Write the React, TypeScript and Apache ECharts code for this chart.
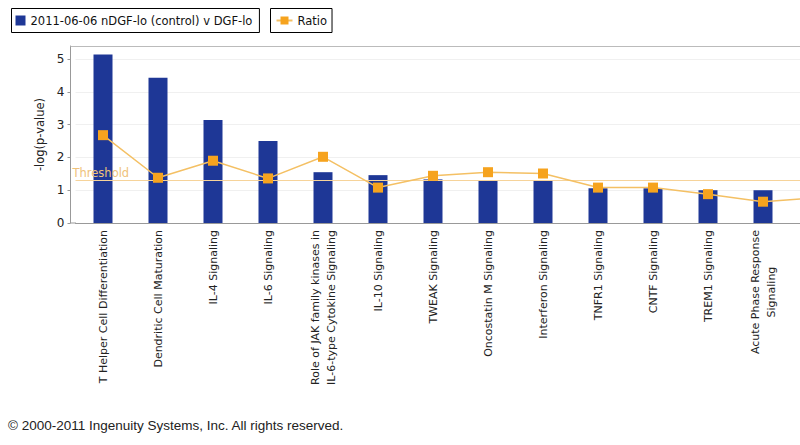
import React, { useEffect, useRef } from "react";
import * as echarts from "echarts";

const categories = [
  "T Helper Cell Differentiation",
  "Dendritic Cell Maturation",
  "IL-4 Signaling",
  "IL-6 Signaling",
  "Role of JAK family kinases in\nIL-6-type Cytokine Signaling",
  "IL-10 Signaling",
  "TWEAK Signaling",
  "Oncostatin M Signaling",
  "Interferon Signaling",
  "TNFR1 Signaling",
  "CNTF Signaling",
  "TREM1 Signaling",
  "Acute Phase Response\nSignaling",
  "",
];
const logPValues: (number | null)[] = [5.14, 4.43, 3.14, 2.5, 1.55, 1.46, 1.33, 1.31, 1.31, 1.06, 1.06, 1.0, 1.0, null];
const ratioValues = [2.68, 1.38, 1.9, 1.36, 2.02, 1.08, 1.44, 1.55, 1.51, 1.08, 1.08, 0.88, 0.65, 0.77];
const thresholdValue = 1.3;
const barSeriesName = "2011-06-06 nDGF-lo (control) v DGF-lo";
const lineSeriesName = "Ratio";
const footerText = "\u00a9 2000-2011 Ingenuity Systems, Inc. All rights reserved.";

const FONT = "DejaVu Sans";

export default function App() {
  const ref = useRef<HTMLDivElement>(null);
  useEffect(() => {
    if (!ref.current) return;
    const chart = echarts.init(ref.current, undefined, { renderer: "svg" });
    chart.setOption({
      animation: false,
      backgroundColor: "#ffffff",
      textStyle: { fontFamily: FONT },
      legend: [
        {
          data: [barSeriesName],
          left: 11.5,
          top: 8.5,
          orient: "horizontal",
          borderColor: "#000",
          borderWidth: 1,
          borderRadius: 0,
          padding: [6, 7, 6, 4],
          itemWidth: 10,
          itemHeight: 10,
          icon: "rect",
          textStyle: { fontFamily: FONT, fontSize: 11.5, color: "#111" },
        },
        {
          data: [lineSeriesName],
          left: 270.5,
          top: 8.5,
          borderColor: "#000",
          borderWidth: 1,
          borderRadius: 0,
          padding: [6, 5, 6, 5],
          itemWidth: 16,
          itemHeight: 10,
          textStyle: { fontFamily: FONT, fontSize: 11.5, color: "#111" },
        },
      ],
      grid: { left: 75.5, top: 46, width: 770, height: 177, containLabel: false },
      xAxis: {
        type: "category",
        data: categories,
        axisLine: { show: true, lineStyle: { color: "#999", width: 1 } },
        axisTick: { show: false },
        axisLabel: {
          interval: 0,
          rotate: 90,
          margin: 7,
          fontFamily: FONT,
          fontSize: 11,
          color: "#222",
          lineHeight: 16,
          formatter: (v: string) =>
            v.indexOf("\n") >= 0
              ? v.split("\n").map((s) => "{c|" + s + "}").join("\n")
              : v,
          rich: { c: { align: "center", fontFamily: FONT, fontSize: 11, color: "#222", lineHeight: 16 } },
        },
        splitLine: { show: false },
      },
      yAxis: {
        type: "value",
        min: 0,
        max: 5.4,
        interval: 1,
        offset: 5,
        name: "-log(p-value)",
        nameLocation: "middle",
        nameGap: 20,
        nameTextStyle: { fontFamily: FONT, fontSize: 11.5, color: "#222" },
        axisLine: { show: true, lineStyle: { color: "#999", width: 1 } },
        axisTick: { show: true, length: 3, lineStyle: { color: "#999" } },
        axisLabel: { showMaxLabel: false, margin: 6, fontFamily: FONT, fontSize: 12, color: "#222" },
        splitLine: { show: true, lineStyle: { color: "#f0f0f0", width: 1 } },
      },
      graphic: [
        {
          type: "line",
          shape: { x1: 70.5, y1: 46.5, x2: 850, y2: 46.5 },
          style: { stroke: "#bbb", lineWidth: 1 },
          z: 10,
        },
        {
          type: "line",
          shape: { x1: 70.5, y1: 223, x2: 76, y2: 223 },
          style: { stroke: "#999", lineWidth: 1 },
          z: 10,
        },
        {
          type: "text",
          left: 8,
          top: 418,
          style: {
            text: footerText,
            fontFamily: "Liberation Sans",
            fontSize: 13.5,
            fill: "#222",
          },
        },
      ],
      series: [
        {
          name: barSeriesName,
          type: "bar",
          data: logPValues,
          barWidth: 19,
          itemStyle: { color: "#1e3796" },
          markLine: {
            silent: true,
            symbol: "none",
            lineStyle: { color: "#f6d39a", type: "solid", width: 1 },
            label: {
              show: true,
              position: "insideStartTop",
              formatter: "Threshold",
              distance: 1,
              offset: [-4, 0],
              color: "#efc27a",
              fontFamily: FONT,
              fontSize: 11.5,
            },
            data: [{ yAxis: thresholdValue }],
          },
        },
        {
          name: lineSeriesName,
          type: "line",
          data: ratioValues,
          symbol: "rect",
          symbolSize: 10,
          lineStyle: { color: "#f4c064", width: 1.5 },
          itemStyle: { color: "#f6a31e" },
          z: 5,
        },
      ],
    });
    return () => chart.dispose();
  }, []);
  return (
    <div
      style={{ position: "absolute", left: 0, top: 0, width: 800, height: 445, overflow: "hidden", background: "#fff" }}
    >
      <div ref={ref} style={{ width: 850, height: 445 }} />
    </div>
  );
}
